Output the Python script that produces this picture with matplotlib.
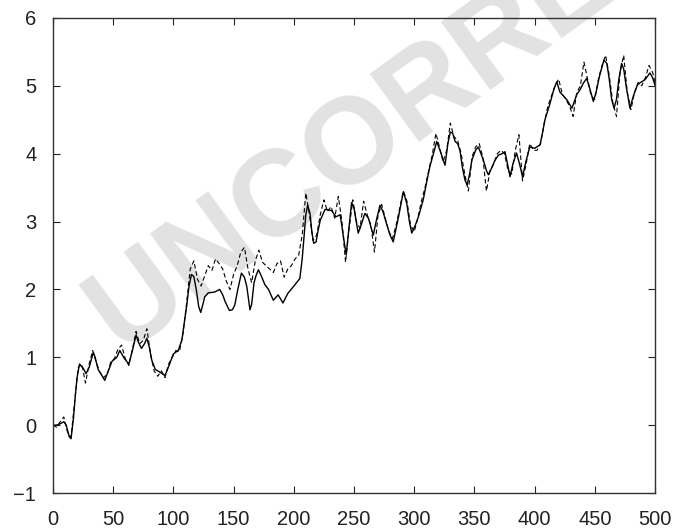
"""Two noisy step-like series against an index of 0..500."""

import matplotlib

matplotlib.use("Agg")
import matplotlib.pyplot as plt

plt.rcParams["font.family"] = ["Liberation Sans", "DejaVu Sans"]

# smooth (solid) estimate
t_solid = [
    0, 3, 6, 9, 11, 13.5, 15, 17, 18.5, 20, 22, 25, 27.5, 30, 33.5, 35, 37.5, 40,
    43, 46, 49, 53, 55.5, 59, 63, 66, 69, 71, 73.5, 76, 78, 80, 82, 85, 89, 93, 96,
    100, 104, 107, 109, 111, 113, 115, 117, 119, 121, 122.7, 124.5, 126, 129, 134,
    138.5, 141, 143, 146.5, 149, 151, 153.5, 156.5, 159, 161, 163.6, 165, 167,
    168.6, 170.6, 173, 176, 179, 183, 187, 191, 195, 201, 205, 207, 208.5, 210,
    211.5, 213.5, 215, 216.5, 218.5, 220, 222, 226, 231.5, 235, 238.5, 241, 243.5,
    245.5, 248, 250, 253.5, 256, 259, 262, 266, 269, 271.6, 274, 277, 280, 282.6,
    285, 287, 291, 293.8, 296, 298, 301, 303.5, 307.5, 310, 313, 316, 318.7, 321.4,
    325.6, 328, 330, 332, 334, 336, 338, 340, 342.2, 344, 346, 348, 351, 353.3,
    355.5, 357.4, 360, 361.6, 364.4, 367, 370, 373, 375.4, 377.5, 379.6, 382, 385,
    387.5, 390, 393, 396, 400, 404.5, 406.5, 408.6, 412.8, 416, 418.4, 421, 424,
    427, 431, 435, 438, 440.5, 443.3, 446, 448.8, 451, 454, 457.6, 460, 462, 464,
    466, 468, 470, 472.3, 474, 476, 479.2, 482, 485.3, 488, 491.7, 495.8, 498, 500,
]
v_solid = [
    0.0, 0.0, 0.02, 0.05, 0.0, -0.17, -0.2, 0.1, 0.42, 0.7, 0.9, 0.84, 0.76, 0.85,
    1.07, 1.0, 0.82, 0.75, 0.66, 0.8, 0.94, 1.0, 1.1, 0.99, 0.9, 1.1, 1.33, 1.22,
    1.13, 1.2, 1.28, 1.15, 0.96, 0.82, 0.78, 0.73, 0.86, 1.05, 1.1, 1.25, 1.5, 1.75,
    2.05, 2.22, 2.19, 2.0, 1.75, 1.66, 1.78, 1.89, 1.95, 1.96, 2.0, 1.92, 1.82, 1.69,
    1.7, 1.77, 2.0, 2.24, 2.18, 2.04, 1.7, 1.78, 2.1, 2.2, 2.29, 2.2, 2.07, 2.0,
    1.84, 1.92, 1.8, 1.94, 2.07, 2.16, 2.45, 2.78, 3.1, 3.24, 3.12, 2.85, 2.68, 2.7,
    2.85, 3.02, 3.18, 3.16, 3.07, 3.1, 2.8, 2.51, 2.85, 3.28, 3.2, 2.83, 2.95, 3.12,
    3.05, 2.8, 3.05, 3.24, 3.15, 2.97, 2.8, 2.7, 2.9, 3.07, 3.44, 3.27, 3.0, 2.83,
    2.95, 3.07, 3.32, 3.55, 3.81, 4.0, 4.18, 4.05, 3.83, 4.15, 4.32, 4.3, 4.18, 4.15,
    4.05, 3.8, 3.61, 3.54, 3.7, 3.91, 4.05, 4.1, 4.0, 3.91, 3.75, 3.69, 3.79, 3.9,
    3.98, 4.0, 4.03, 3.85, 3.66, 3.85, 4.01, 3.85, 3.66, 3.9, 4.1, 4.08, 4.13, 4.3,
    4.5, 4.74, 4.95, 5.06, 4.91, 4.85, 4.79, 4.67, 4.87, 4.95, 5.04, 5.11, 4.95,
    4.77, 4.9, 5.15, 5.38, 5.33, 5.1, 4.8, 4.67, 4.8, 5.1, 5.33, 5.25, 5.0, 4.67,
    4.85, 5.01, 5.05, 5.09, 5.19, 5.12, 5.01,
]

# noisy (dashed) observations, every 3 steps
t_dashed = list(range(0, 499, 3)) + [500]
v_dashed = [
    0.0, -0.03, 0.05, 0.12, -0.1, -0.18, 0.35, 0.85, 0.9, 0.62, 0.9, 1.1, 0.92,
    0.78, 0.7, 0.75, 0.93, 0.98, 1.12, 1.18, 0.98, 0.88, 1.12, 1.38, 1.2, 1.25,
    1.42, 1.05, 0.8, 0.72, 0.8, 0.7, 0.9, 1.0, 1.1, 1.08, 1.35, 1.8, 2.3, 2.42,
    2.15, 2.05, 2.2, 2.35, 2.28, 2.45, 2.38, 2.3, 2.12, 2.0, 2.22, 2.35, 2.55, 2.62,
    2.3, 2.1, 2.42, 2.58, 2.4, 2.35, 2.3, 2.25, 2.38, 2.42, 2.18, 2.3, 2.35, 2.45,
    2.5, 2.8, 3.42, 3.1, 2.72, 2.8, 3.1, 3.32, 3.15, 3.22, 3.05, 3.37, 3.0, 2.4,
    2.9, 3.32, 3.0, 2.9, 3.3, 3.1, 2.95, 2.55, 3.1, 3.25, 3.05, 2.85, 2.75, 2.95,
    3.2, 3.45, 3.3, 2.95, 2.85, 3.05, 3.3, 3.5, 3.75, 3.98, 4.3, 4.1, 3.88, 4.05,
    4.45, 4.25, 4.2, 4.0, 3.7, 3.45, 3.95, 4.1, 4.15, 3.95, 3.45, 3.75, 3.85, 4.0,
    4.05, 4.0, 3.75, 3.7, 4.05, 4.28, 3.6, 3.85, 4.15, 4.05, 4.05, 4.15, 4.45, 4.7,
    4.85, 5.0, 5.1, 4.88, 4.8, 4.7, 4.55, 4.9, 5.0, 5.35, 5.1, 4.85, 4.8, 5.1, 5.3,
    5.45, 5.15, 4.75, 4.55, 5.2, 5.45, 4.9, 4.65, 4.9, 5.05, 5.0, 5.12, 5.3, 5.2,
    5.05,
]

x_ticks = [0, 50, 100, 150, 200, 250, 300, 350, 400, 450, 500]
y_ticks = [-1, 0, 1, 2, 3, 4, 5, 6]

fig = plt.figure(figsize=(6.74, 5.32), dpi=100)
ax = fig.add_axes([0.0786, 0.0733, 0.8932, 0.8929])
ax.set_facecolor("none")

# watermark, partly outside the figure as in the source image
fig.text(0.722, 0.91, "UNCORRECTED", fontsize=88, fontweight="bold",
         color="#e2e2e2", rotation=36, ha="center", va="center", zorder=-1)

ax.plot(t_dashed, v_dashed, color="black", linewidth=0.8, linestyle=(0, (4, 2.5)))
ax.plot(t_solid, v_solid, color="black", linewidth=1.0)

ax.set_xlim(0, 500)
ax.set_ylim(-1, 6)
ax.set_xticks(x_ticks)
ax.set_yticks(y_ticks)
ax.set_yticklabels(["\u22121" if v < 0 else str(v) for v in y_ticks])
ax.tick_params(direction="in", top=True, right=True, length=5, width=0.8,
               labelsize=14.5, colors="#222222")
ax.tick_params(axis="x", pad=12)
ax.tick_params(axis="y", pad=12)
for spine in ax.spines.values():
    spine.set_linewidth(1.0)
    spine.set_color("#333333")

fig.savefig("out.png", dpi=100)
